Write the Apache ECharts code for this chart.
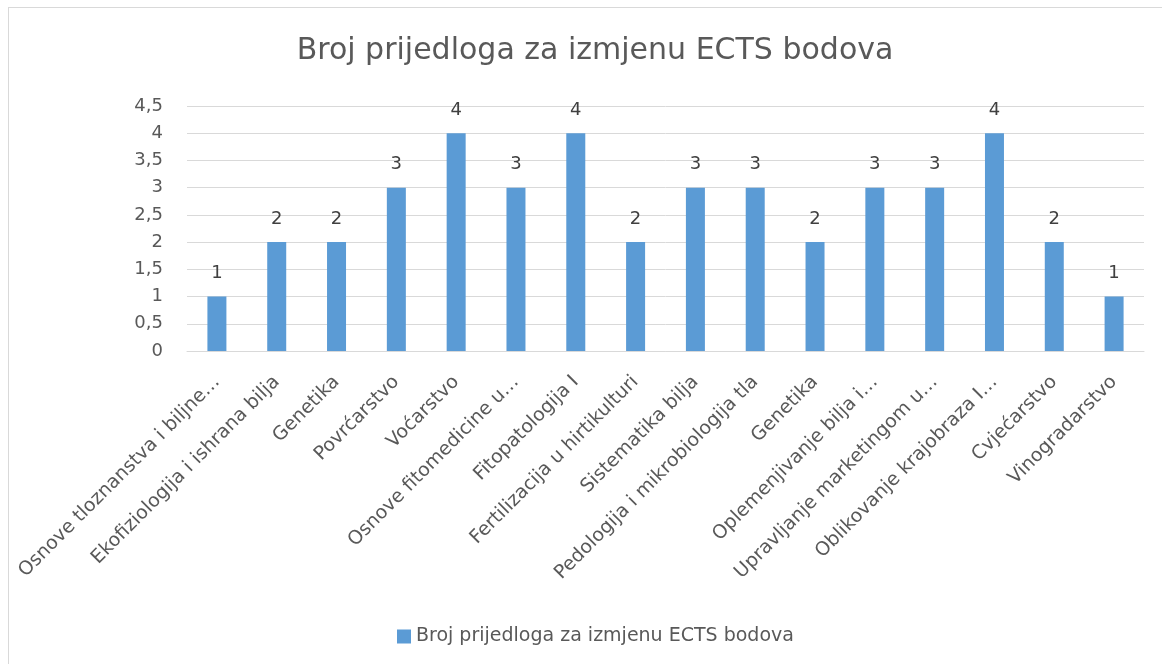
<!DOCTYPE html>
<html>
<head>
<meta charset="utf-8">
<script src="https://cdn.jsdelivr.net/npm/echarts@6/dist/echarts.min.js"></script>
<style>
  html, body { margin: 0; padding: 0; background: #fff; overflow: hidden; }
  #chart { position: absolute; left: 0; top: 0; width: 1162px; height: 664px; }
  #frame { position: absolute; left: 8px; top: 7px; width: 1200px; height: 700px;
           border: 1px solid #d9d9d9; pointer-events: none; }
</style>
</head>
<body>
<div id="chart"></div>
<div id="frame"></div>
<script>
const categories = [
  'Osnove tloznanstva i biljne…',
  'Ekofiziologija i ishrana bilja',
  'Genetika',
  'Povrćarstvo',
  'Voćarstvo',
  'Osnove fitomedicine u…',
  'Fitopatologija I',
  'Fertilizacija u hirtikulturi',
  'Sistematika bilja',
  'Pedologija i mikrobiologija tla',
  'Genetika',
  'Oplemenjivanje bilja i…',
  'Upravljanje marketingom u…',
  'Oblikovanje krajobraza I…',
  'Cvjećarstvo',
  'Vinogradarstvo'
];
const values = [1, 2, 2, 3, 4, 3, 4, 2, 3, 3, 2, 3, 3, 4, 2, 1];
const seriesName = 'Broj prijedloga za izmjenu ECTS bodova';

const font = 'DejaVu Sans';
const chart = echarts.init(document.getElementById('chart'));

chart.setOption({
  animation: false,
  title: {
    text: 'Broj prijedloga za izmjenu ECTS bodova',
    left: 590,
    top: 31,
    textAlign: 'center',
    textStyle: { fontFamily: font, fontSize: 30, fontWeight: 'normal', color: '#595959' }
  },
  legend: {
    left: 392,
    top: 622,
    itemWidth: 14,
    itemHeight: 14,
    icon: 'rect',
    textStyle: { fontFamily: font, fontSize: 19, color: '#595959' },
    data: [seriesName]
  },
  grid: { left: 187, right: 18, top: 106, bottom: 313 },
  xAxis: {
    type: 'category',
    data: categories,
    axisLine: { lineStyle: { color: '#d9d9d9' } },
    axisTick: { show: false },
    axisLabel: {
      interval: 0,
      rotate: 45,
      margin: 28,
      fontFamily: font,
      fontSize: 19,
      color: '#595959'
    }
  },
  yAxis: {
    type: 'value',
    min: 0,
    max: 4.5,
    interval: 0.5,
    axisLine: { show: false },
    axisTick: { show: false },
    splitLine: { lineStyle: { color: '#d9d9d9', width: 1 } },
    axisLabel: {
      margin: 24,
      fontFamily: font,
      fontSize: 18,
      color: '#595959',
      formatter: v => String(v).replace('.', ',')
    }
  },
  series: [{
    name: seriesName,
    type: 'bar',
    data: values,
    barWidth: 19,
    itemStyle: { color: '#5b9bd5' },
    label: {
      show: true,
      position: 'top',
      distance: 14,
      fontFamily: font,
      fontSize: 18,
      color: '#404040'
    }
  }]
});
</script>
</body>
</html>
